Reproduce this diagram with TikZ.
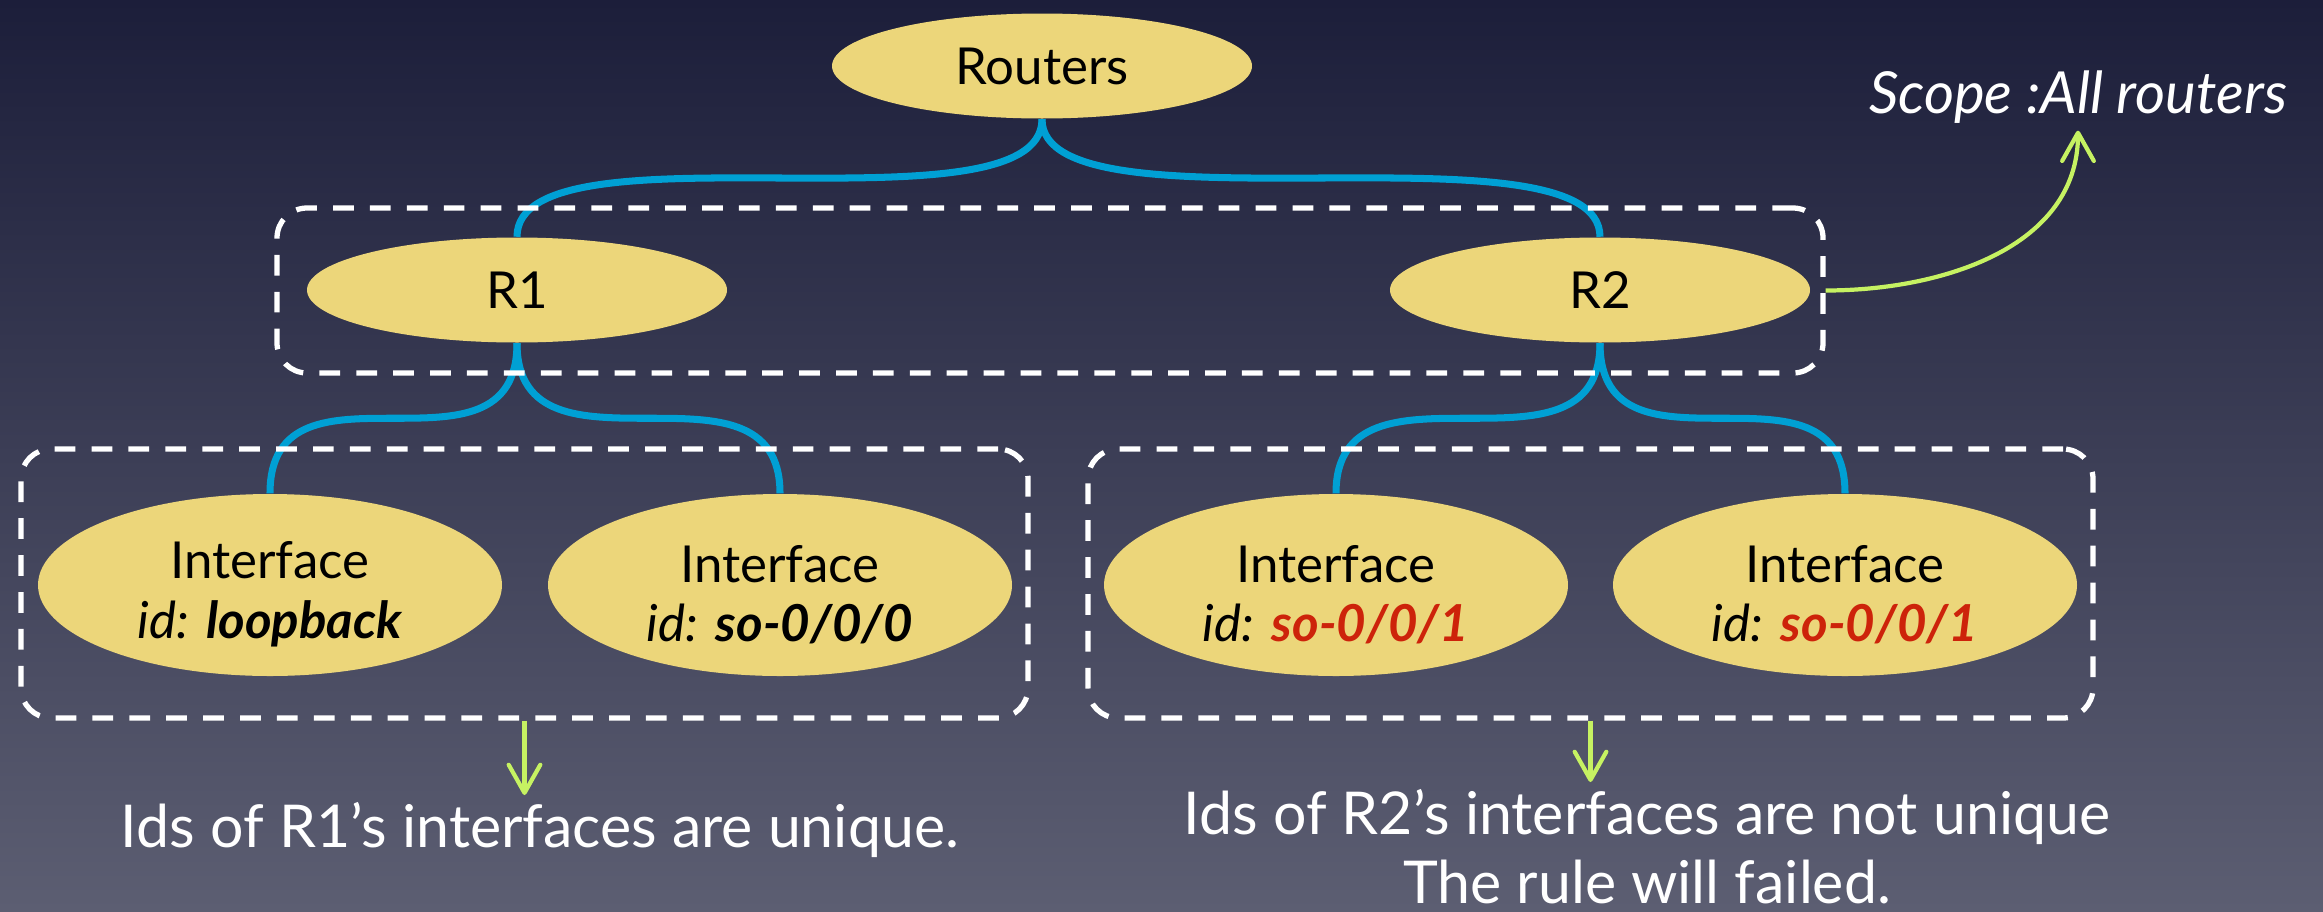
\documentclass[tikz,border=0pt]{standalone}
\usepackage{fontspec}
\setmainfont{Lato}
\usetikzlibrary{shapes.geometric, arrows.meta, positioning}

\definecolor{bgtop}{RGB}{28,30,58}
\definecolor{bgbot}{RGB}{92,94,114}
\definecolor{nodefill}{RGB}{236,214,122}
\definecolor{linkblue}{RGB}{0,160,212}
\definecolor{notegreen}{RGB}{198,242,98}
\definecolor{failred}{RGB}{205,35,10}

\pgfdeclarelayer{back}
\pgfdeclarelayer{wires}
\pgfsetlayers{back,wires,main}

% interface label, first line pushed down a little
\newcommand{\ifname}[1]{\rule{0pt}{16pt}Interface\\\textit{id:} #1}

\tikzset{
  router/.style={ellipse, fill=nodefill, inner sep=0pt, minimum width=4.2cm, minimum height=1.05cm, font=\fontsize{14.5}{17}\selectfont},
  iface/.style={router, minimum width=4.64cm, minimum height=1.82cm, align=center},
  link/.style={draw=linkblue, line width=2pt},
  group/.style={draw=white, line width=1.5pt, dash pattern=on 5.9pt off 4.6pt, rounded corners=0.3cm, inner sep=0pt},
  note/.style={draw=notegreen, line width=1.2pt, -{Straight Barb[length=8pt, width=9pt, round]}},
  notetext/.style={text=white, inner sep=2pt, align=center, font=\fontsize{16.8}{19.6}\selectfont}
}

\begin{document}
\begin{tikzpicture}
\useasboundingbox (0,0) rectangle (23.23,9.11);
\begin{pgfonlayer}{back}
\fill[top color=bgtop, bottom color=bgbot] (0,0) rectangle (23.23,9.11);
\end{pgfonlayer}

% tree
\node[router] (routers) at (10.42,8.45) {Routers};
\node[router] (r1) at (5.17,6.21) {R1};
\node[router] (r2) at (16.00,6.21) {R2};

\node[iface] (if1) at (2.70,3.26) {\ifname{\textbf{\textit{loopback}}}};
\node[iface] (if2) at (7.80,3.26) {\ifname{\textbf{\textit{so-0/0/0}}}};
\node[iface] (if3) at (13.36,3.26) {\ifname{\textcolor{failred}{\textbf{\textit{so-0/0/1}}}}};
\node[iface] (if4) at (18.45,3.26) {\ifname{\textcolor{failred}{\textbf{\textit{so-0/0/1}}}}};

\begin{pgfonlayer}{wires}
\draw[link] (routers.south) .. controls +(0,-1.2) and +(0,1.2) .. (r1.north);
\draw[link] (routers.south) .. controls +(0,-1.2) and +(0,1.2) .. (r2.north);
\draw[link] (r1.south) .. controls +(0,-1.5) and +(0,1.5) .. (if1.north);
\draw[link] (r1.south) .. controls +(0,-1.5) and +(0,1.5) .. (if2.north);
\draw[link] (r2.south) .. controls +(0,-1.5) and +(0,1.5) .. (if3.north);
\draw[link] (r2.south) .. controls +(0,-1.5) and +(0,1.5) .. (if4.north);
\end{pgfonlayer}

% scopes
\node[group, minimum width=15.46cm, minimum height=1.65cm] (grpR) at (10.50,6.205) {};
\node[group, minimum width=10.07cm, minimum height=2.69cm] (grpA) at (5.245,3.275) {};
\node[group, minimum width=10.05cm, minimum height=2.69cm] (grpB) at (15.905,3.275) {};

% notes
\node[notetext, anchor=base, font=\fontsize{16.5}{20}\selectfont\itshape] (scope) at (20.78,7.98) {Scope :All routers};
\node[notetext, anchor=north] (noteA) at (5.40,1.16) {Ids of R1’s interfaces are unique.};
\node[notetext, anchor=north] (noteB) at (16.47,1.29) {Ids of R2’s interfaces are not unique\\The rule will failed.};

\draw[note] (grpR.east) to[out=0, in=-90] (scope.south);
\draw[note] (grpA.south) -- (grpA.south |- noteA.north);
\draw[note] (grpB.south) -- (grpB.south |- noteB.north);
\end{tikzpicture}
\end{document}
